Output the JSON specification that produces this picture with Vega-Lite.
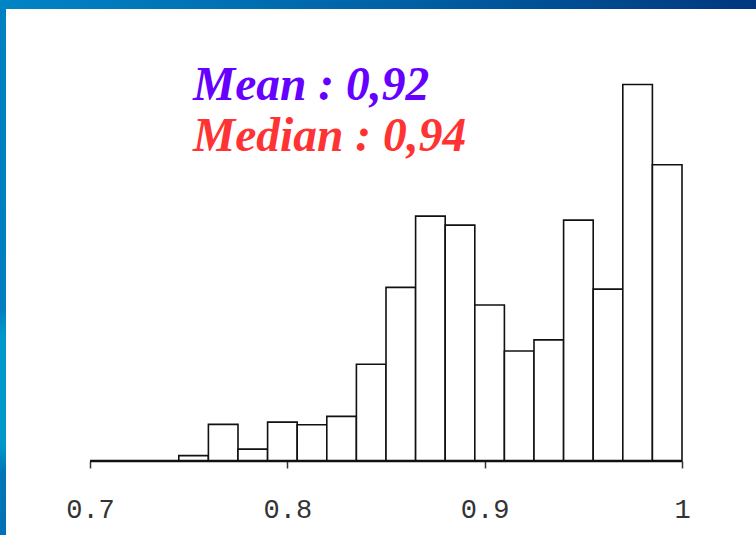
{
  "$schema": "https://vega.github.io/schema/vega-lite/v6.json",
  "background": "#0080c0",
  "padding": 0,
  "autosize": {"type": "pad"},
  "config": {
    "view": {"stroke": null},
    "axisX": {
      "domain": false,
      "grid": false,
      "ticks": true,
      "tickSize": 7,
      "tickWidth": 1.5,
      "tickColor": "#333333",
      "labelFont": "Liberation Mono",
      "labelFontSize": 27,
      "labelColor": "#333333",
      "labelPadding": 28,
      "labelFlush": false,
      "labelOverlap": false
    }
  },
  "spacing": 0,
  "vconcat": [
    {
      "width": 756,
      "height": 9,
      "view": {
        "fill": {
          "gradient": "linear",
          "x1": 0, "y1": 0, "x2": 1, "y2": 0,
          "stops": [
            {"offset": 0, "color": "#0084c5"},
            {"offset": 0.5, "color": "#0063a8"},
            {"offset": 1, "color": "#00377e"}
          ]
        },
        "stroke": null
      },
      "data": {"values": []},
      "mark": {"type": "point", "opacity": 0},
      "encoding": {}
    },
    {
      "spacing": 0,
      "hconcat": [
        {
          "width": 6,
          "height": 526,
          "view": {
            "fill": {
              "gradient": "linear",
              "x1": 0, "y1": 0, "x2": 0, "y2": 1,
              "stops": [
                {"offset": 0, "color": "#0080c0"},
                {"offset": 0.57, "color": "#007ec0"},
                {"offset": 0.62, "color": "#0098cc"},
                {"offset": 0.83, "color": "#0097cb"},
                {"offset": 0.88, "color": "#0076b9"},
                {"offset": 1, "color": "#0072b6"}
              ]
            },
            "stroke": null
          },
          "data": {"values": []},
          "mark": {"type": "point", "opacity": 0},
          "encoding": {}
        },
        {
          "width": 750,
          "height": 526,
          "view": {"fill": "#ffffff", "stroke": null},
          "layer": [
            {
              "data": {
                "values": [
                  {"bin_start": 0.745, "bin_end": 0.760, "density": 0.15},
                  {"bin_start": 0.760, "bin_end": 0.775, "density": 1.02},
                  {"bin_start": 0.775, "bin_end": 0.790, "density": 0.33},
                  {"bin_start": 0.790, "bin_end": 0.805, "density": 1.08},
                  {"bin_start": 0.805, "bin_end": 0.820, "density": 1.01},
                  {"bin_start": 0.820, "bin_end": 0.835, "density": 1.24},
                  {"bin_start": 0.835, "bin_end": 0.850, "density": 2.69},
                  {"bin_start": 0.850, "bin_end": 0.865, "density": 4.83},
                  {"bin_start": 0.865, "bin_end": 0.880, "density": 6.81},
                  {"bin_start": 0.880, "bin_end": 0.895, "density": 6.56},
                  {"bin_start": 0.895, "bin_end": 0.910, "density": 4.34},
                  {"bin_start": 0.910, "bin_end": 0.925, "density": 3.06},
                  {"bin_start": 0.925, "bin_end": 0.940, "density": 3.37},
                  {"bin_start": 0.940, "bin_end": 0.955, "density": 6.70},
                  {"bin_start": 0.955, "bin_end": 0.970, "density": 4.78},
                  {"bin_start": 0.970, "bin_end": 0.985, "density": 10.47},
                  {"bin_start": 0.985, "bin_end": 1.000, "density": 8.24}
                ]
              },
              "mark": {"type": "rect", "fill": "#ffffff", "stroke": "#111111", "strokeWidth": 1.6},
              "encoding": {
                "x": {
                  "field": "bin_start",
                  "type": "quantitative",
                  "scale": {"domain": [0.657432, 1.0375], "nice": false, "zero": false},
                  "axis": {
                    "title": null,
                    "values": [0.7, 0.8, 0.9, 1.0],
                    "offset": -74,
                    "labelExpr": "datum.value >= 0.999 ? '1' : format(datum.value, '.1f')"
                  }
                },
                "x2": {"field": "bin_end"},
                "y": {
                  "field": "density",
                  "type": "quantitative",
                  "scale": {"domain": [-2.058, 12.571], "nice": false, "zero": false},
                  "axis": null
                },
                "y2": {"datum": 0}
              }
            },
            {
              "data": {"values": [{"baseline": "x axis"}]},
              "mark": {"type": "rule", "color": "#111111", "strokeWidth": 2.5},
              "encoding": {
                "x": {"datum": 0.7, "type": "quantitative"},
                "x2": {"datum": 1.0},
                "y": {"datum": 0, "type": "quantitative", "axis": null}
              }
            },
            {
              "data": {"values": [{"label": "Mean : 0,92"}]},
              "mark": {
                "type": "text",
                "font": "Liberation Serif",
                "fontSize": 47.5,
                "fontStyle": "italic",
                "fontWeight": "bold",
                "align": "left",
                "baseline": "alphabetic",
                "color": "#6600ff"
              },
              "encoding": {
                "text": {"field": "label"},
                "x": {"datum": 0.7522, "type": "quantitative"},
                "y": {"datum": 10.04, "type": "quantitative", "axis": null}
              }
            },
            {
              "data": {"values": [{"label": "Median : 0,94"}]},
              "mark": {
                "type": "text",
                "font": "Liberation Serif",
                "fontSize": 47.5,
                "fontStyle": "italic",
                "fontWeight": "bold",
                "align": "left",
                "baseline": "alphabetic",
                "color": "#ff3333"
              },
              "encoding": {
                "text": {"field": "label"},
                "x": {"datum": 0.7522, "type": "quantitative"},
                "y": {"datum": 8.62, "type": "quantitative", "axis": null}
              }
            }
          ]
        }
      ]
    }
  ]
}
